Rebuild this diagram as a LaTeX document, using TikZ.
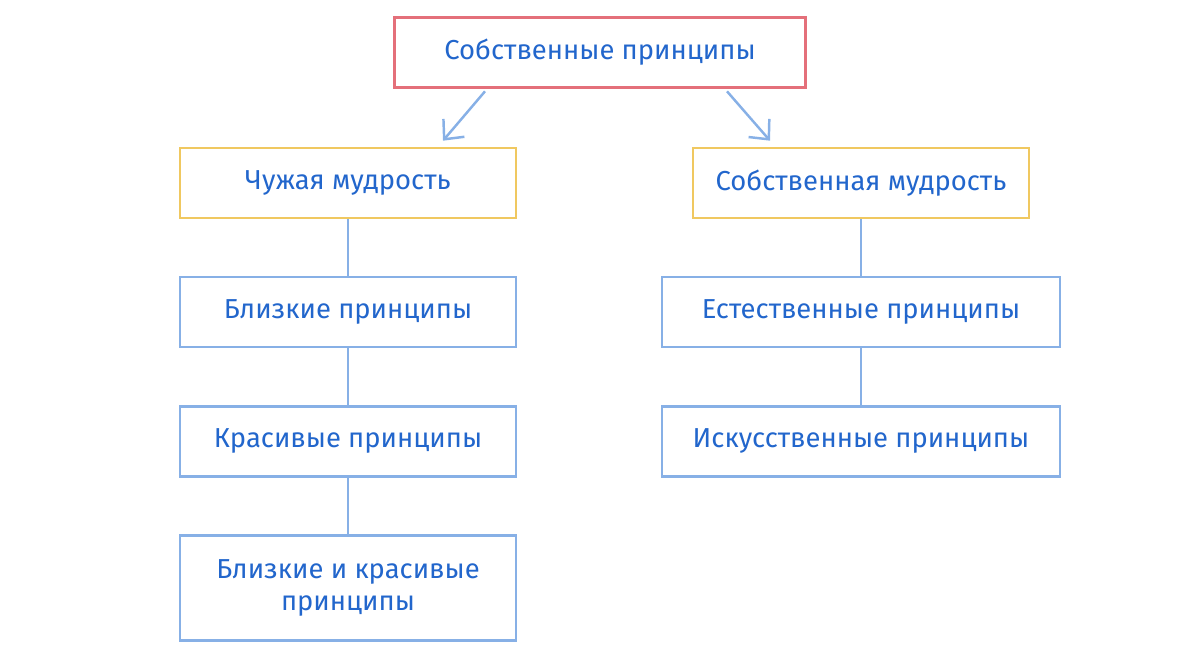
\documentclass[tikz,border=0pt]{standalone}
\usepackage{fontspec}
\setmainfont{Fira Sans}
\usetikzlibrary{positioning, arrows.meta}
\definecolor{inkblue}{RGB}{34,102,204}
\definecolor{redline}{RGB}{228,112,122}
\definecolor{yellowline}{RGB}{240,200,96}
\definecolor{blueline}{RGB}{135,176,230}
\tikzset{
  node distance=1.13cm, % gap between stacked boxes
  every node/.style={font=\fontsize{15.6}{18.5}\selectfont, text=inkblue}, % text of all boxes
  box/.style={draw, line width=1.5pt, fill=white, align=center, minimum height=1.4cm}, % common box
  rootbox/.style={box, draw=redline, minimum width=8.22cm},
  wisdombox/.style={box, draw=yellowline, minimum width=6.72cm},
  leftbox/.style={box, draw=blueline, minimum width=6.72cm},
  rightbox/.style={box, draw=blueline, minimum width=7.96cm},
  link/.style={draw=blueline, line width=1.4pt},
  branch/.style={link, -{Straight Barb[length=3mm, width=5.5mm]}},
}
\begin{document}
\begin{tikzpicture}
    \useasboundingbox (0,0) rectangle (24,-13.1);
    \node[rootbox]                     (root) at (12,-1.05)    {Собственные принципы};
    \node[wisdombox]                   (alien) at (6.96,-3.66) {Чужая мудрость};
    \node[wisdombox]                   (own)   at (17.22,-3.66) {Собственная мудрость};
    \node[leftbox, below=of alien]     (close) {Близкие принципы};
    \node[leftbox, below=of close]     (nice)  {Красивые принципы};
    \node[leftbox, below=of nice, minimum height=2.1cm] (both) {Близкие и красивые\\принципы};
    \node[rightbox, below=of own]      (natural) {Естественные принципы};
    \node[rightbox, below=of natural]  (artificial) {Искусственные принципы};
    \draw[branch] ([xshift=-2.3cm, yshift=-0.05cm]root.south) -- ([xshift=1.9cm, yshift=0.12cm]alien.north);
    \draw[branch] ([xshift=2.54cm, yshift=-0.05cm]root.south) -- ([xshift=-1.82cm, yshift=0.12cm]own.north);
    \draw[link]
      (alien) -- (close)
      (close) -- (nice)
      (nice) -- (both)
      (own) -- (natural)
      (natural) -- (artificial);
\end{tikzpicture}
\end{document}
